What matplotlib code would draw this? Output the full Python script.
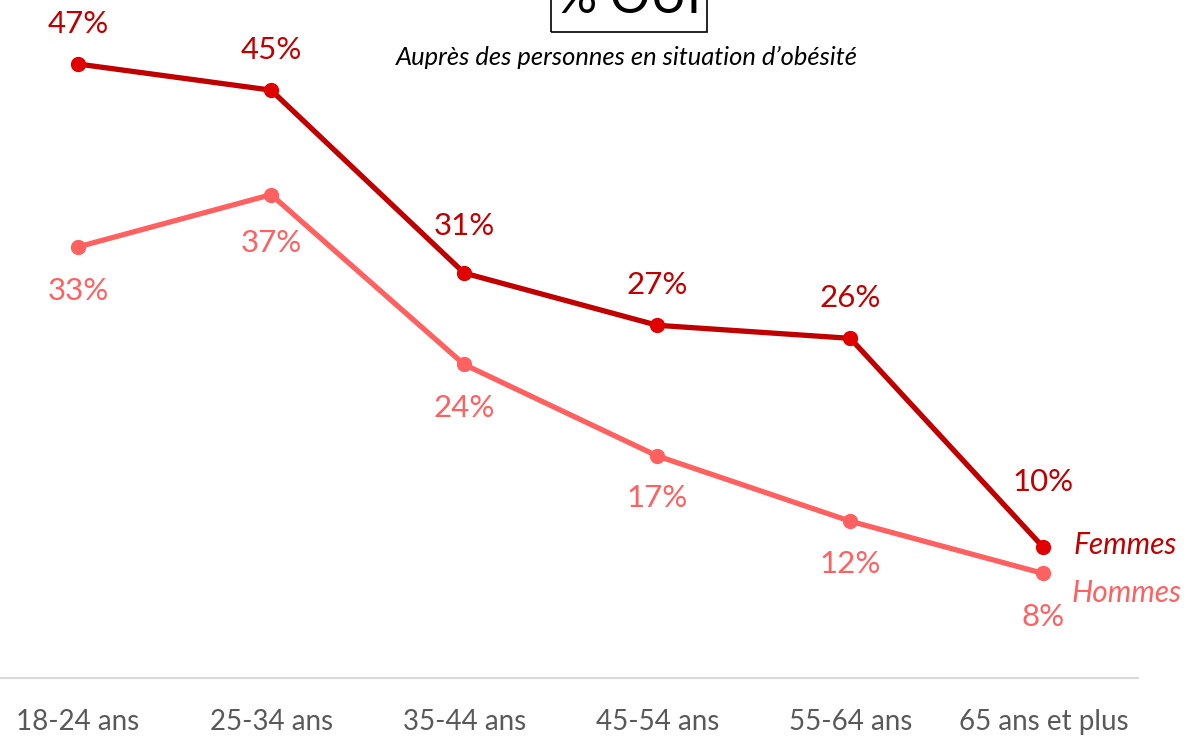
import matplotlib
matplotlib.use("Agg")
import matplotlib.pyplot as plt
from matplotlib.patches import Rectangle

categories = ["18-24 ans", "25-34 ans", "35-44 ans", "45-54 ans", "55-64 ans", "65 ans et plus"]
femmes = [47, 45, 31, 27, 26, 10]
hommes = [33, 37, 24, 17, 12, 8]
femmes_offsets = [29, 29, 34, 29, 29, 47]
hommes_offsets = [-32, -35, -31, -30, -31, -31]

plt.rcParams['font.family'] = ['Lato', 'DejaVu Sans']

W, H = 1188, 737
fig = plt.figure(figsize=(W / 100, H / 100), dpi=100)
ax = fig.add_axes([0, 59 / H, 1138 / W, 678 / H])

c_f_line = "#C00000"
c_f_marker = "#E00000"
c_f_text = "#C00000"
c_h = "#FF6161"

x = list(range(len(categories)))
ax.plot(x, femmes, color=c_f_line, lw=3.8, marker="o", ms=10,
        mfc=c_f_marker, mec=c_f_marker, zorder=3, solid_capstyle="round")
ax.plot(x, hommes, color=c_h, lw=3.8, marker="o", ms=10,
        mfc=c_h, mec=c_h, zorder=2, solid_capstyle="round")

for xi, v, off in zip(x, femmes, femmes_offsets):
    ax.annotate(f"{v}%", (xi, v), xytext=(0, off), textcoords="offset points",
                ha="center", va="center", fontsize=22.5, color=c_f_text)
for xi, v, off in zip(x, hommes, hommes_offsets):
    ax.annotate(f"{v}%", (xi, v), xytext=(0, off), textcoords="offset points",
                ha="center", va="center", fontsize=22.5, color=c_h)

ax.annotate("Femmes", (x[-1], femmes[-1]), xytext=(22, 2), textcoords="offset points",
            ha="left", va="center", fontsize=21.5, style="italic", color=c_f_text,
            annotation_clip=False)
ax.annotate("Hommes", (x[-1], hommes[-1]), xytext=(20, -14), textcoords="offset points",
            ha="left", va="center", fontsize=21.5, style="italic", color=c_h,
            annotation_clip=False)

ax.set_xlim(-0.404, 5.49)
ax.set_ylim(0, 51.9)
ax.set_xticks(x)
ax.set_xticklabels(categories, fontsize=20, color="#595959")
ax.tick_params(axis="x", length=0, pad=22)
ax.set_yticks([])
for s in ["top", "right", "left"]:
    ax.spines[s].set_visible(False)
ax.spines["bottom"].set_color("#D9D9D9")
ax.spines["bottom"].set_linewidth(1.5)
ax.patch.set_alpha(0)

# Title box (partially cut off at top, as in the reference)
fig.patches.append(Rectangle((551 / W, 1 - 32 / H), 156 / W, 60 / H,
                             transform=fig.transFigure, fill=False,
                             edgecolor="black", lw=1.2))
fig.text(629 / W, 1 - 13 / H, "% OUI", ha="center", va="baseline",
         fontsize=36, color="black")
fig.text(627 / W, 1 - 57 / H, "Auprès des personnes en situation d’obésité",
         ha="center", va="center", fontsize=18.4, style="italic", color="black")

fig.savefig("out.png", dpi=100)
